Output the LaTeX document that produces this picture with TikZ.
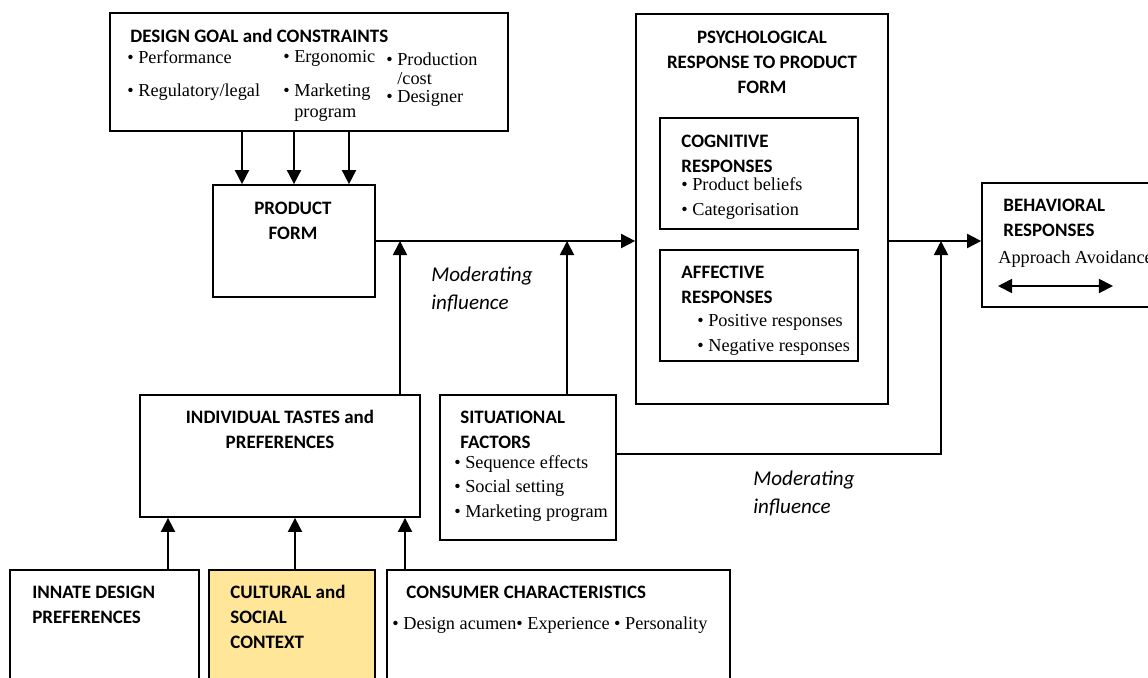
\documentclass[tikz,border=0pt]{standalone}
\usepackage{fontspec}
\setmainfont{Liberation Serif}
\newfontfamily\headfont{Carlito}
\usepackage{xcolor}
\usetikzlibrary{arrows.meta, positioning}
\definecolor{culturefill}{HTML}{FFE699}

\begin{document}
\begin{tikzpicture}[x=0.02cm, y=-0.02cm]
    % styles
    \tikzstyle{block} = [rectangle, draw=black, line width=1pt, inner sep=0pt]
    \tikzstyle{heading} = [font=\headfont\bfseries\fontsize{10.8}{14.2}\selectfont, inner sep=0pt]
    \tikzstyle{item} = [font=\fontsize{10.4}{13.7}\selectfont, inner sep=0pt, align=left, anchor=base west]
    \tikzstyle{note} = [font=\headfont\itshape\fontsize{12}{15.9}\selectfont, inner sep=0pt, align=left, anchor=base west]
    \tikzstyle{arrow} = [line width=1pt, -{Triangle[length=8pt, width=8pt]}]

    \clip (0,0) rectangle (1148,677);

    % boxes
    \node (design) [block, minimum width=7.96cm, minimum height=2.36cm] at (309,72) {};
    \node (pform) [block, minimum width=3.24cm, minimum height=2.24cm] at (294,241) {};
    \node (psych) [block, minimum width=5.04cm, minimum height=7.8cm] at (762,209) {};
    \node (cogn) [block, minimum width=3.96cm, minimum height=2.22cm] at (759,173.5) {};
    \node (affect) [block, minimum width=3.96cm, minimum height=2.22cm] at (759,305.5) {};
    \node (behav) [block, minimum width=3.56cm, minimum height=2.48cm] at (1071,245) {};
    \node (indiv) [block, minimum width=5.6cm, minimum height=2.44cm] at (280,456) {};
    \node (situ) [block, minimum width=3.52cm, minimum height=2.9cm] at (528,467.5) {};
    \node (innate) [block, minimum width=3.78cm, minimum height=2.4cm] at (104.5,630) {};
    \node (culture) [block, fill=culturefill, minimum width=3.32cm, minimum height=2.4cm] at (292,630) {};
    \node (consumer) [block, minimum width=6.86cm, minimum height=2.4cm] at (558.5,630) {};

    % texts (multi-line nodes sit on the baseline of their last line)
    \node (designT) [heading, anchor=base west] at (130,42) {DESIGN GOAL and CONSTRAINTS};
    \node (dgPerf) [item] at (127,63) {• Performance};
    \node (dgReg) [item] at (127,96) {• Regulatory/legal};
    \node (dgErgo) [item] at (283,62) {• Ergonomic};
    \node (dgMkt) [item] at (283,117) {• Marketing\\[-2.3pt]\phantom{• }program};
    \node (dgProd) [item] at (386,84) {• Production\\[-2.9pt]\phantom{• }/cost};
    \node (dgDes) [item] at (386,102) {• Designer};
    \node (pformT) [heading, anchor=base, align=center] at (293,239) {PRODUCT\\FORM};
    \node (psychT) [heading, anchor=base, align=center] at (762,93) {PSYCHOLOGICAL\\RESPONSE TO PRODUCT\\FORM};
    \node (cognT) [heading, anchor=base west, align=left] at (681,172) {COGNITIVE\\RESPONSES};
    \node (cognI) [item] at (681,215) {• Product beliefs\\• Categorisation};
    \node (affectT) [heading, anchor=base west, align=left] at (681,303) {AFFECTIVE\\RESPONSES};
    \node (affectI) [item] at (697,351) {• Positive responses\\• Negative responses};
    \node (behavT) [heading, anchor=base west, align=left] at (1003,236) {BEHAVIORAL\\RESPONSES};
    \node (behavI) [item] at (998,263) {Approach Avoidance};
    \node (indivT) [heading, anchor=base, align=center] at (280,448) {INDIVIDUAL TASTES and\\PREFERENCES};
    \node (situT) [heading, anchor=base west, align=left] at (460,448) {SITUATIONAL\\FACTORS};
    \node (situI) [item] at (454,517) {• Sequence effects\\• Social setting\\• Marketing program};
    \node (innateT) [heading, anchor=base west, align=left] at (32,623) {INNATE DESIGN\\PREFERENCES};
    \node (cultureT) [heading, anchor=base west, align=left] at (230,648) {CULTURAL and\\SOCIAL\\CONTEXT};
    \node (consumerT) [heading, anchor=base west] at (406,598) {CONSUMER CHARACTERISTICS};
    \node (consumerI) [item] at (392,629) {• Design acumen• Experience • Personality};
    \node (modA) [note] at (431,309) {Moderating\\influence};
    \node (modB) [note] at (753,513) {Moderating\\influence};

    % arrows
    \draw [arrow] (242,0 |- design.south) -- (242,0 |- pform.north);
    \draw [arrow] (294,0 |- design.south) -- (294,0 |- pform.north);
    \draw [arrow] (349,0 |- design.south) -- (349,0 |- pform.north);
    \draw [arrow] (pform.east) -- (pform.east -| psych.west);
    \draw [arrow] (psych.east |- pform.east) -- (behav.west |- pform.east);
    \draw [arrow] (400,0 |- indiv.north) -- (400,0 |- pform.east);
    \draw [arrow] (567,0 |- situ.north) -- (567,0 |- pform.east);
    \draw [arrow] (situ.east |- 0,454) -| (941,0 |- pform.east);
    \draw [arrow] (168,0 |- innate.north) -- (168,0 |- indiv.south);
    \draw [arrow] (295,0 |- culture.north) -- (295,0 |- indiv.south);
    \draw [arrow] (405,0 |- consumer.north) -- (405,0 |- indiv.south);

    % approach / avoidance
    \coordinate (apL) at (998,286);
    \coordinate (apR) at (1113,286);
    \draw [line width=1pt, {Triangle[length=8pt, width=8pt]}-{Triangle[length=8pt, width=8pt]}] (apL) -- (apR);
\end{tikzpicture}
\end{document}
